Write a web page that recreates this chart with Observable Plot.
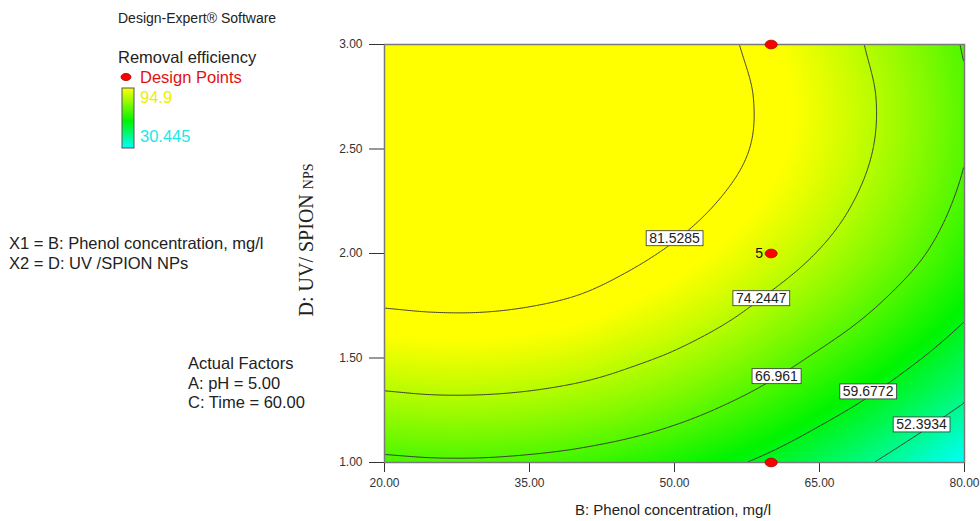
<!DOCTYPE html>
<html>
<head>
<meta charset="utf-8">
<script src="https://cdn.jsdelivr.net/npm/d3@7"></script>
<script src="https://cdn.jsdelivr.net/npm/@observablehq/plot@0.6"></script>
<style>
  html, body { margin: 0; padding: 0; background: #fff; }
  #chart { width: 980px; height: 521px; }
</style>
</head>
<body>
<div id="chart"></div>
<script>
// Factor levels of the response grid
const phenol = [20, 25, 30, 35, 40, 45, 50, 55, 60, 65, 70, 75, 80];      // B: mg/l
const uvSpion = [1.00, 1.25, 1.50, 1.75, 2.00, 2.25, 2.50, 2.75, 3.00];    // D: UV/SPION NPs

// Predicted removal efficiency (%), one row per UV/SPION level, one column per phenol level
const removal = [
  [66.0, 66.4, 66.4, 66.0, 65.3, 64.1, 62.6, 60.7, 58.5, 55.8, 52.8, 49.4, 45.6],
  [72.2, 72.6, 72.6, 72.2, 71.4, 70.3, 68.6, 66.5, 64.1, 61.3, 58.4, 55.1, 51.6],
  [77.4, 77.8, 77.8, 77.4, 76.6, 75.2, 73.6, 71.5, 69.0, 66.2, 63.3, 60.1, 56.7],
  [81.7, 82.0, 82.0, 81.6, 80.8, 79.4, 77.7, 75.7, 73.2, 70.6, 67.6, 64.3, 60.8],
  [84.9, 85.3, 85.2, 84.8, 84.0, 82.6, 80.9, 78.9, 76.6, 74.0, 71.0, 67.7, 63.9],
  [87.2, 87.5, 87.5, 87.1, 86.3, 85.1, 83.3, 81.3, 79.0, 76.4, 73.3, 69.9, 66.0],
  [88.5, 88.8, 88.8, 88.3, 87.5, 86.3, 84.7, 82.8, 80.4, 77.7, 74.6, 71.1, 67.2],
  [88.9, 89.2, 89.1, 88.6, 87.8, 86.6, 85.0, 83.0, 80.6, 77.9, 74.8, 71.3, 67.4],
  [88.2, 88.5, 88.4, 87.9, 87.1, 85.9, 84.2, 82.3, 79.9, 77.1, 74.0, 70.5, 66.6]
];

// Contour levels and where their labels sit
const contourLevels = [52.3934, 59.6772, 66.961, 74.2447, 81.5285];
const labelText = ["81.5285", "74.2447", "66.961", "59.6772", "52.3934"];
const labelPhenol = [50.0, 58.97, 60.55, 70.03, 75.55];
const labelUv = [2.073, 1.786, 1.413, 1.340, 1.182];

// Design points (replicates at the centre)
const designPhenol = [60, 60, 60];
const designUv = [3.00, 2.00, 1.00];
const designRuns = [1, 5, 1];

// Axis ticks
const xTicks = [20, 35, 50, 65, 80];
const yTicks = [1.00, 1.50, 2.00, 2.50, 3.00];

// Observed response range shown in the legend
const responseHigh = 94.9;
const responseLow = 30.445;

const contourLabels = labelText.map((t, i) => ({text: t, B: labelPhenol[i], D: labelUv[i]}));
const designPoints = designRuns.map((n, i) => ({B: designPhenol[i], D: designUv[i], runs: n}));

// Smooth (Catmull-Rom) lookup into the response grid
function cr(p0, p1, p2, p3, t) {
  return p1 + 0.5 * t * (p2 - p0 + t * (2 * p0 - 5 * p1 + 4 * p2 - p3 + t * (3 * (p1 - p2) + p3 - p0)));
}
function node(i, j) {
  const ni = phenol.length, nj = uvSpion.length;
  if (i < 0) return 2 * node(0, j) - node(1, j);
  if (i > ni - 1) return 2 * node(ni - 1, j) - node(ni - 2, j);
  if (j < 0) return 2 * node(i, 0) - node(i, 1);
  if (j > nj - 1) return 2 * node(i, nj - 1) - node(i, nj - 2);
  return removal[j][i];
}
function removalAt(b, d) {
  const u = (b - phenol[0]) / (phenol[1] - phenol[0]);
  const v = (d - uvSpion[0]) / (uvSpion[1] - uvSpion[0]);
  const i = Math.max(0, Math.min(phenol.length - 2, Math.floor(u)));
  const j = Math.max(0, Math.min(uvSpion.length - 2, Math.floor(v)));
  const t = u - i, s = v - j;
  const rows = [];
  for (let k = -1; k <= 2; k++) {
    rows.push(cr(node(i - 1, j + k), node(i, j + k), node(i + 1, j + k), node(i + 2, j + k), t));
  }
  return cr(rows[0], rows[1], rows[2], rows[3], s);
}

// Flattened ellipse used for the design points
const ellipse = {
  draw(ctx, size) {
    const r = Math.sqrt(size / Math.PI);
    const rx = r, ry = r * 0.72, k = 0.5523;
    ctx.moveTo(rx, 0);
    ctx.bezierCurveTo(rx, ry * k, rx * k, ry, 0, ry);
    ctx.bezierCurveTo(-rx * k, ry, -rx, ry * k, -rx, 0);
    ctx.bezierCurveTo(-rx, -ry * k, -rx * k, -ry, 0, -ry);
    ctx.bezierCurveTo(rx * k, -ry, rx, -ry * k, rx, 0);
    ctx.closePath();
  }
};

const sans = "'Liberation Sans',Arial,sans-serif";
const green = "#00f400";

const chart = Plot.plot({
  width: 980,
  height: 521,
  marginLeft: 384,
  marginRight: 16,
  marginTop: 44,
  marginBottom: 59,
  style: {fontFamily: sans, fontSize: "12px", color: "#333", background: "#fff"},
  x: {domain: [20, 80], ticks: xTicks, tickFormat: d => d.toFixed(2), tickSize: 10, tickPadding: 6, label: null},
  y: {domain: [1, 3], ticks: yTicks, tickFormat: d => d.toFixed(2), tickSize: 15, tickPadding: 7, label: null},
  color: {type: "linear", domain: [45.5, 61, 79.5], range: ["#00ffff", green, "#ffff00"], clamp: true, interpolate: "rgb"},
  marks: [
    Plot.raster({fill: removalAt, x1: 20, x2: 80, y1: 1, y2: 3, pixelSize: 1}),
    Plot.contour({value: removalAt, x1: 20, x2: 80, y1: 1, y2: 3, thresholds: contourLevels, fill: "none", stroke: "#2b2b2b", strokeWidth: 0.9, pixelSize: 2}),
    Plot.frame({stroke: "#7a7a7a", strokeWidth: 1.5}),
    Plot.text(contourLabels, {x: "B", y: "D", text: "text", fontSize: 14, fill: "#222"}),
    Plot.dot(designPoints, {x: "B", y: "D", symbol: ellipse, r: 6, fill: "#ff0000", stroke: "#a00000", strokeWidth: 0.8}),
    Plot.text(designPoints.filter(d => d.runs > 1), {x: "B", y: "D", text: d => String(d.runs), dx: -8, textAnchor: "end", fontSize: 14, fill: "#111"})
  ]
});

document.getElementById("chart").appendChild(chart);

const svg = d3.select(chart);
const svgNS = "http://www.w3.org/2000/svg";

// White boxes behind the contour labels
svg.selectAll("text")
  .filter(function () { return labelText.includes(this.textContent); })
  .each(function () {
    const bb = this.getBBox();
    const rect = document.createElementNS(svgNS, "rect");
    const tf = this.getAttribute("transform");
    if (tf) rect.setAttribute("transform", tf);
    rect.setAttribute("x", bb.x - 3);
    rect.setAttribute("y", bb.y + 1);
    rect.setAttribute("width", bb.width + 6);
    rect.setAttribute("height", bb.height - 1);
    rect.setAttribute("fill", "#fff");
    rect.setAttribute("stroke", "#333");
    rect.setAttribute("stroke-width", "0.8");
    this.parentNode.insertBefore(rect, this);
  });

// Axis titles
svg.append("text")
  .attr("x", 673).attr("y", 515)
  .attr("text-anchor", "middle")
  .style("font-family", sans).style("font-size", "15px").attr("fill", "#222")
  .text("B: Phenol concentration, mg/l");

const yTitle = svg.append("text")
  .attr("transform", "translate(313,240) rotate(-90)")
  .attr("text-anchor", "middle")
  .style("font-family", "'Liberation Serif','Times New Roman',serif").style("font-size", "20px").attr("fill", "#222");
yTitle.append("tspan").text("D: UV/ SPION ");
yTitle.append("tspan").style("font-size", "14px").text("NPS");

// Side panel: software, response legend, factor names
const side = svg.append("g")
  .attr("text-anchor", "start")
  .style("font-family", sans).style("font-size", "16.5px").attr("fill", "#222");
side.append("text").attr("x", 118).attr("y", 23).style("font-size", "14px").text("Design-Expert® Software");
side.append("text").attr("x", 118).attr("y", 63).text("Removal efficiency");
side.append("path").attr("transform", "translate(126,77)")
  .attr("d", d3.symbol(ellipse, Math.PI * 25)())
  .attr("fill", "#ff0000").attr("stroke", "#a00000").attr("stroke-width", 0.8);
side.append("text").attr("x", 140).attr("y", 83).attr("fill", "#e31010").text("Design Points");

const grad = svg.append("defs").append("linearGradient")
  .attr("id", "respGrad").attr("x1", 0).attr("y1", 0).attr("x2", 0).attr("y2", 1);
grad.append("stop").attr("offset", "0%").attr("stop-color", "#ffff00");
grad.append("stop").attr("offset", "55%").attr("stop-color", green);
grad.append("stop").attr("offset", "100%").attr("stop-color", "#00ffff");
side.append("rect").attr("x", 122).attr("y", 88).attr("width", 12).attr("height", 60)
  .attr("fill", "url(#respGrad)").attr("stroke", "#555").attr("stroke-width", 1);
side.append("text").attr("x", 140).attr("y", 103).attr("fill", "#eeee00").text(String(responseHigh));
side.append("text").attr("x", 140).attr("y", 142).attr("fill", "#22e6e6").text(String(responseLow));

side.append("text").attr("x", 9).attr("y", 249).text("X1 = B: Phenol concentration, mg/l");
side.append("text").attr("x", 9).attr("y", 269).text("X2 = D: UV /SPION NPs");
side.append("text").attr("x", 188).attr("y", 369).text("Actual Factors");
side.append("text").attr("x", 188).attr("y", 389).text("A: pH = 5.00");
side.append("text").attr("x", 188).attr("y", 408).text("C: Time = 60.00");
</script>
</body>
</html>
